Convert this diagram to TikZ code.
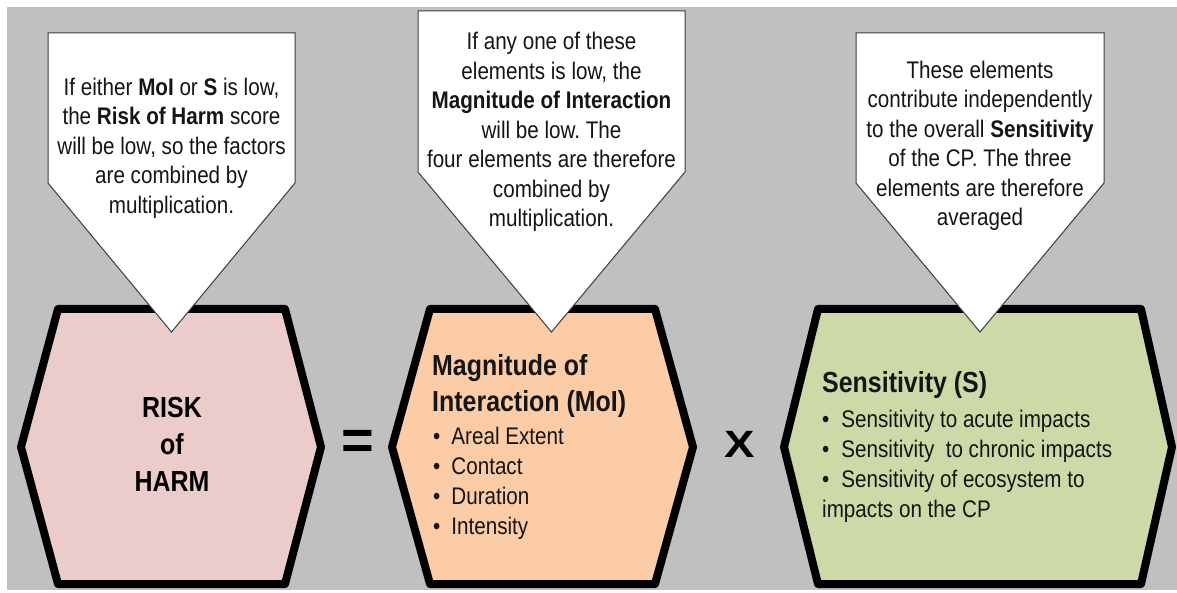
\documentclass[tikz,border=0pt]{standalone}
\usepackage{fontspec}
\setmainfont[FakeStretch=0.86]{Liberation Sans}
\newfontfamily\signfont{Liberation Sans}
\usepackage{xcolor}
\definecolor{panel}{HTML}{C0C0C0}
\definecolor{harm}{HTML}{ECCCCB}
\definecolor{moi}{HTML}{FBCCA6}
\definecolor{sens}{HTML}{CCDAA8}
\definecolor{rim}{HTML}{3C3C3C}
\definecolor{ink}{HTML}{151515}
\usetikzlibrary{positioning}
\tikzset{
  hexshape/.style ={draw=black,line width=8pt,line join=round},
  callout/.style  ={draw=rim,fill=white,line width=1pt,line join=miter},
  note/.style     ={font=\fontsize{24}{29.5}\selectfont,align=center,
                    text=ink,inner sep=0pt},
  bigtxt/.style   ={font=\fontsize{29}{37}\selectfont\bfseries,align=center,
                    text=black,inner sep=0pt},
  title/.style    ={font=\fontsize{29}{36.5}\selectfont\bfseries,align=left,
                    text=ink,inner sep=0pt},
  items/.style    ={font=\fontsize{24}{30}\selectfont,align=left,
                    text=ink,inner sep=0pt},
  sign/.style     ={text=black,inner sep=0pt},
}

\begin{document}
\frenchspacing
\begin{tikzpicture}[x=1pt,y=-1pt]
\useasboundingbox (0,0) rectangle (1177,593);
% background
\fill[white] (0,0) rectangle (1177,593);
\fill[panel] (7,7) rectangle (1177,590);
% hexagons
\draw[hexshape,fill=harm] (21,447) -- (58,309) -- (285,309) -- (321,447)
  -- (285,584) -- (58,584) -- cycle;
\draw[hexshape,fill=moi] (392,447) -- (430,309) -- (655,309) -- (693,447)
  -- (655,584) -- (430,584) -- cycle;
\draw[hexshape,fill=sens] (784,447) -- (818,309) -- (1141,309) -- (1172,447)
  -- (1141,584) -- (818,584) -- cycle;
% callouts
\draw[callout] (48,33) -- (295,33) -- (295,183) -- (171.5,332) -- (48,183) -- cycle;
\draw[callout] (418,11) -- (685,11) -- (685,172) -- (551.5,332) -- (418,172) -- cycle;
\draw[callout] (856,33) -- (1104,33) -- (1104,183) -- (980,332) -- (856,183) -- cycle;
\node[note] (why1) at (171.5,148)
  {If either \textbf{MoI} or \textbf{S} is low,\\ the \textbf{Risk of Harm} score\\
   will be low, so the factors\\ are combined by\\ multiplication.};
\node[note] (why2) at (551.5,132)
  {If any one of these\\ elements is low, the\\ \textbf{Magnitude of Interaction}\\
   will be low. The\\ four elements are therefore\\ combined by\\ multiplication.};
\node[note] (why3) at (980,146)
  {These elements\\ contribute independently\\ to the overall \textbf{Sensitivity}\\
   of the CP. The three\\ elements are therefore\\ averaged};
% box contents
\node[bigtxt] (risk) at (172,444.5) {RISK\\ of\\ HARM};
\node[title,anchor=west] (moihead) at (432,386) {Magnitude of\\ Interaction (MoI)};
\node[items,anchor=west] (moilist) at (433,483)
  {\textbullet\hspace{11pt}Areal Extent\\ \textbullet\hspace{11pt}Contact\\
   \textbullet\hspace{11pt}Duration\\ \textbullet\hspace{11pt}Intensity};
\node[title,anchor=base west] (senshead) at (822,392) {Sensitivity (S)};
\node[items,anchor=west] (senslist) at (822,466)
  {\textbullet\hspace{12pt}Sensitivity to acute impacts\\
   \textbullet\hspace{12pt}Sensitivity\ \ to chronic impacts\\
   \textbullet\hspace{12pt}Sensitivity of ecosystem to\\ impacts on the CP};
% operators
\node[sign,font=\signfont\bfseries\fontsize{56}{56}\selectfont] (eq) at (358,445) {=};
\node[sign,font=\signfont\bfseries\fontsize{38}{38}\selectfont] (times) at (740,444)
  {\scalebox{1.2}[1]{X}};
\end{tikzpicture}
\end{document}
